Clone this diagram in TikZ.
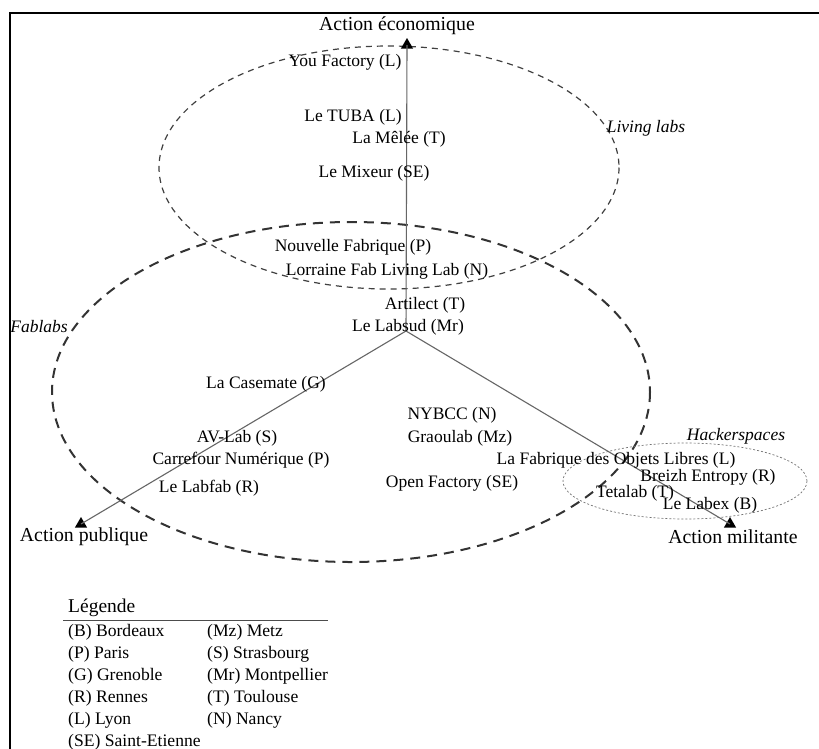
\documentclass[tikz,border=0pt]{standalone}
\usepackage{fontspec}
\setmainfont{Liberation Serif}
\usetikzlibrary{shapes.geometric}
\begin{document}
\begin{tikzpicture}[x=1pt,y=-1pt,
  lbl/.style={inner sep=0pt,font=\fontsize{17.5}{20}\selectfont},
  ital/.style={inner sep=0pt,font=\fontsize{17.5}{20}\selectfont\itshape},
  axl/.style={inner sep=0pt,font=\fontsize{19.8}{22}\selectfont},
  leg/.style={inner sep=0pt,anchor=west,font=\fontsize{17.6}{20}\selectfont},
  tri/.style={regular polygon,regular polygon sides=3,fill=black,inner sep=0pt,minimum size=14pt},
  axis/.style={draw=black!60,line width=1.1pt},
  livdash/.style={draw=black!75,line width=1.2pt,dash pattern=on 6pt off 5pt},
  fabdash/.style={draw=black!80,line width=2pt,dash pattern=on 10pt off 7pt},
  hackdot/.style={draw=black!55,line width=0.7pt,dash pattern=on 2pt off 2pt}]
\useasboundingbox (0,0) rectangle (819,748);
\fill[white] (0,0) rectangle (819,748);
% frame
\draw[line width=1.6pt] (10,770) -- (10,13) -- (840,13);
% ellipses
\draw[livdash] (389,167.5) ellipse [x radius=230,y radius=121.5];
\draw[fabdash] (351,392) ellipse [x radius=299,y radius=170];
\draw[hackdot] (685,481) ellipse [x radius=122,y radius=38];
% axes
\coordinate (c) at (406,331);
\node[tri] (ttop) at (407,45) {};
\node[tri] (tleft) at (81,524) {};
\node[tri] (tright) at (730,524) {};
\draw[axis] (c) -- (ttop.center);
\draw[axis] (c) -- (tleft.center);
\draw[axis] (c) -- (tright.center);
\node[axl] (ae) at (397,26) {Action économique};
\node[axl] (ap) at (84,537) {Action publique};
\node[axl] (am) at (733,537) {Action militante};
% group names
\node[ital] (gl) at (646,128) {Living labs};
\node[ital] (gf) at (39,327) {Fablabs};
\node[ital] (gh) at (736,436) {Hackerspaces};
% labs
\node[lbl] (n1) at (345,62) {You Factory (L)};
\node[lbl] (n2) at (353,117) {Le TUBA (L)};
\node[lbl] (n3) at (399,139) {La Mêlée (T)};
\node[lbl] (n4) at (374,173) {Le Mixeur (SE)};
\node[lbl] (n5) at (353,247) {Nouvelle Fabrique (P)};
\node[lbl] (n6) at (387,271) {Lorraine Fab Living Lab (N)};
\node[lbl] (n7) at (425,305) {Artilect (T)};
\node[lbl] (n8) at (408,327) {Le Labsud (Mr)};
\node[lbl] (n9) at (266,384) {La Casemate (G)};
\node[lbl] (n10) at (452,415) {NYBCC (N)};
\node[lbl] (n11) at (237,438) {AV-Lab (S)};
\node[lbl] (n12) at (460,438) {Graoulab (Mz)};
\node[lbl] (n13) at (241,460) {Carrefour Numérique (P)};
\node[lbl] (n14) at (616,460) {La Fabrique des Objets Libres (L)};
\node[lbl] (n15) at (708,477) {Breizh Entropy (R)};
\node[lbl] (n16) at (452,483) {Open Factory (SE)};
\node[lbl] (n17) at (209,488) {Le Labfab (R)};
\node[lbl] (n18) at (635,493) {Tetalab (T)};
\node[lbl] (n19) at (710,505) {Le Labex (B)};
% legend
\node[leg,font=\fontsize{19.5}{22}\selectfont] (lt) at (68,608) {Légende};
\coordinate (la) at (63,620);
\coordinate (lb) at (328,620);
\draw[black!70,line width=1pt] (la) -- (lb);
\node[leg] (l1) at (68,632) {(B) Bordeaux};
\node[leg] (l2) at (68,654) {(P) Paris};
\node[leg] (l3) at (68,676) {(G) Grenoble};
\node[leg] (l4) at (68,698) {(R) Rennes};
\node[leg] (l5) at (68,720) {(L) Lyon};
\node[leg] (l6) at (68,742) {(SE) Saint-Etienne};
\node[leg] (m1) at (207,632) {(Mz) Metz};
\node[leg] (m2) at (207,654) {(S) Strasbourg};
\node[leg] (m3) at (207,676) {(Mr) Montpellier};
\node[leg] (m4) at (207,698) {(T) Toulouse};
\node[leg] (m5) at (207,720) {(N) Nancy};
\end{tikzpicture}
\end{document}
